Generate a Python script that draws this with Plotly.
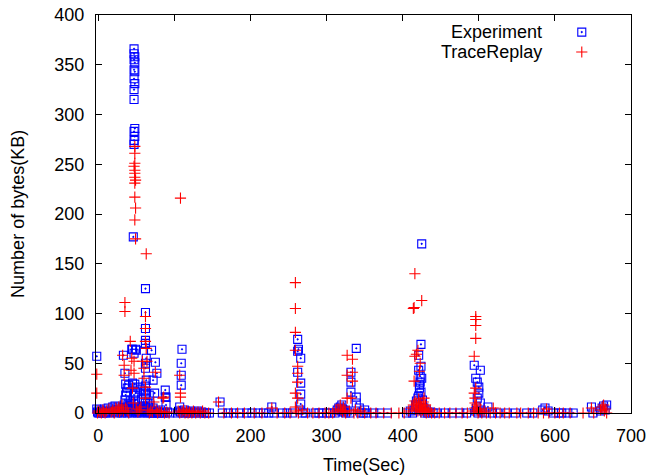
import plotly.graph_objects as go

# ---------------- data ----------------
exp_time = [
    -2, -2, -1, 0, 1, 2, 3, 5, 6, 8, 9, 10, 12, 13, 15, 16, 18, 19, 20, 22, 23, 24, 25, 26, 27, 29,
    30, 31, 32, 33, 34, 35, 36, 37, 38, 39, 40, 41, 42, 43, 44, 45, 46, 48, 49, 50, 51, 52, 53, 54,
    55, 56, 57, 58, 59, 60, 61, 62, 63, 64, 65, 66, 67, 68, 69, 70, 71, 72, 73, 74, 76, 77, 78, 80,
    82, 84, 86, 88, 91, 94,
    47, 47, 48, 47, 48, 47, 48, 47, 48, 47, 47, 48, 47, 48, 47, 47, 46,
    44, 45, 49, 50, 47, 33, 70, 75, 77, 72, 88, 89, 89, 35, 36, 36, 37, 35, 48, 47, 47, 49, 49,
    62, 62, 62, 62, 62, 63, 62, 62, 63, 62, 62, 62, 62, 62, 74, 88,
    38, 40, 42, 43, 39, 45, 52, 55, 57, 60, 65, 67, 68,
    110, 109, 109, 109, 107, 104, 106, 108, 111, 113, 115, 117, 119, 121, 123, 126, 128, 131, 133,
    136, 139, 142, 146,
    160, 163, 171, 178, 186, 195, 202, 210, 217, 224, 228, 231, 242, 248, 255,
    262, 263, 262, 266, 262, 266, 266, 266, 265, 268, 272,
    285, 290, 294, 300, 305, 311, 314, 316, 318, 319, 320, 321, 322, 323, 325, 327, 330,
    332, 332, 332, 339, 339, 339, 343, 345, 348, 350, 353, 362, 370, 380,
    405, 410, 413, 415, 417, 418, 419, 420, 421, 421, 424, 425, 424, 423, 422, 424, 421, 426, 422,
    423, 425, 426, 428, 427, 429, 431, 433, 436, 440, 445, 456, 465, 475, 484,
    494, 502, 496, 498, 500, 500, 498, 502, 497, 496, 499, 503, 505, 508, 512, 518, 525, 537, 548,
    563, 571, 584, 587, 591, 598, 605, 609, 617, 624, 648, 650, 660, 662, 664, 666, 668,
]
exp_kb = [
    57, 4, 1, 0, 3, 0, 1, 2, 0, 4, 1, 0, 2, 5, 1, 0, 3, 6, 1, 7, 2, 4, 0, 6, 1, 3,
    2, 0, 5, 1, 8, 3, 2, 6, 0, 4, 2, 7, 1, 3, 0, 5, 2, 4, 1, 3, 0, 6, 2, 1,
    4, 0, 3, 7, 2, 5, 1, 4, 3, 0, 2, 6, 1, 0, 3, 2, 0, 5, 1, 0, 2, 0, 1, 0,
    3, 0, 1, 0, 1, 0,
    366, 361, 358, 355, 352, 345, 343, 336, 331, 325, 315, 286, 283, 278, 274, 270, 177,
    64, 64, 64, 63, 60, 58, 63, 51, 40, 33, 23, 16, 8, 40, 29, 18, 21, 13, 29, 18, 9, 20, 13,
    125, 101, 85, 73, 70, 55, 50, 45, 33, 27, 20, 15, 10, 5, 20, 16,
    25, 28, 12, 9, 7, 30, 26, 24, 14, 22, 10, 18, 8,
    64, 50, 38, 28, 6, 0, 2, 1, 0, 3, 0, 1, 0, 2, 0, 1, 0, 2, 0,
    1, 0, 0, 0,
    11, 0, 0, 0, 0, 0, 0, 0, 0, 0, 6, 0, 0, 0, 0,
    74, 64, 62, 55, 41, 30, 19, 9, 3, 0, 0,
    0, 0, 0, 0, 0, 0, 3, 5, 6, 2, 8, 4, 1, 3, 0, 2, 0,
    41, 31, 21, 65, 16, 10, 5, 0, 0, 3, 0, 0, 0, 0,
    0, 2, 0, 3, 8, 12, 6, 15, 58, 43, 69, 170, 47, 37, 28, 21, 17, 13, 25,
    31, 35, 9, 5, 2, 0, 3, 0, 1, 0, 0, 0, 0, 0, 0,
    48, 43, 35, 31, 26, 20, 15, 10, 5, 2, 0, 3, 1, 0, 6, 0, 0, 0, 0,
    0, 0, 3, 5, 2, 0, 0, 0, 0, 0, 6, 0, 2, 5, 7, 3, 8,
]

rep_time = [
    -2, -2, -1, 0, 2, 4, 6, 7, 9, 11, 14, 17, 19, 21, 23, 25, 27, 28, 30, 31, 33,
    35, 35, 32, 34, 34, 36, 38, 40, 42, 44, 43, 45, 47, 47, 46,
    48, 48, 48, 47, 48, 48, 48, 49, 48, 48, 49, 48, 49,
    50, 52, 54, 56, 58, 60, 60, 62, 62, 62, 63, 62, 62, 63, 64, 65, 67, 69, 71, 73, 75, 76, 78,
    80, 83, 85, 86, 87, 90, 93,
    108, 107, 108, 108, 105, 107, 110, 112, 114, 116, 118, 120, 123, 125, 128, 131, 134, 137, 140, 145,
    158, 165, 175, 183, 192, 205, 215, 228, 235, 245, 252,
    259, 259, 259, 259, 262, 262, 262, 259, 262, 259, 260, 263, 268, 275, 282, 290, 298,
    303, 308, 312, 315, 318, 319, 321, 322, 324, 325, 327, 334, 334, 327, 334, 327, 332, 330, 336,
    338, 341, 345, 350, 358, 365, 375, 385, 395, 402, 408,
    416, 425, 414, 415, 420, 416, 418, 415, 422, 423, 428, 412, 414, 416, 417, 418, 419, 420, 421,
    422, 423, 424, 425, 426, 427, 428, 429, 430, 431, 432, 434, 436, 438, 442, 448, 455, 462, 470,
    478, 485,
    496, 496, 496, 496, 494, 495, 495, 495, 493, 494, 496, 497, 498, 499, 500, 502, 504, 507, 510,
    515, 519, 522, 528, 534, 540, 550, 555, 565, 572, 578, 585, 589, 592, 600, 606, 611, 620, 637,
    648, 651, 660, 662, 664, 665, 666, 668,
]
rep_kb = [
    39, 20, 0, 2, 1, 0, 3, 1, 0, 2, 4, 1, 3, 0, 5, 2, 6, 1, 3, 8, 2,
    111, 102, 58, 48, 38, 5, 2, 0, 72, 55, 43, 25, 52, 40, 10,
    268, 261, 251, 248, 244, 241, 237, 234, 231, 217, 206, 194, 175,
    4, 1, 3, 6, 52, 45, 35, 97, 85, 72, 65, 26, 15, 160, 52, 3, 0, 2, 1, 11, 41, 3, 0,
    2, 1, 15, 16, 0, 1, 0,
    216, 38, 20, 16, 2, 0, 1, 3, 0, 2, 0, 1, 0, 2, 0, 1, 0, 2, 0, 0,
    11, 0, 0, 0, 0, 0, 0, 5, 0, 0, 0,
    131, 105, 81, 63, 47, 40, 31, 20, 15, 6, 2, 0, 3, 0, 0, 0, 0,
    0, 0, 2, 4, 8, 3, 1, 6, 2, 0, 58, 54, 41, 38, 32, 15, 15, 2, 0,
    3, 0, 2, 0, 0, 0, 0, 0, 0, 0, 2,
    140, 113, 105, 106, 63, 57, 59, 32, 42, 50, 15, 5, 8, 12, 3, 10, 6, 2, 14,
    4, 9, 1, 7, 3, 11, 5, 2, 8, 0, 4, 1, 3, 0, 0, 0, 0, 0, 0,
    0, 0,
    97, 94, 88, 75, 57, 15, 10, 5, 2, 20, 25, 8, 3, 0, 1, 4, 0, 2, 0,
    0, 5, 0, 0, 0, 0, 0, 0, 0, 0, 0, 0, 4, 0, 0, 0, 0, 0, 0,
    5, 0, 3, 6, 8, 2, 4, 0,
]

series_names = ["Experiment", "TraceReplay"]
x_title = "Time(Sec)"
y_title = "Number of bytes(KB)"
x_ticks = [0, 100, 200, 300, 400, 500, 600, 700]
y_ticks = [0, 50, 100, 150, 200, 250, 300, 350, 400]

BLUE = "#0000ff"
RED = "#ff0000"
FONT = "Liberation Sans, Arial, sans-serif"

SQ = dict(symbol="square-open-dot", size=8, color=BLUE, line=dict(width=1.1, color=BLUE))
CR = dict(symbol="cross-thin-open", size=8, color=RED, line=dict(width=1.1, color=RED))

fig = go.Figure()
fig.add_trace(go.Scatter(x=exp_time, y=exp_kb, mode="markers", name=series_names[0],
                         cliponaxis=False, marker=SQ, showlegend=False))
fig.add_trace(go.Scatter(x=rep_time, y=rep_kb, mode="markers", name=series_names[1],
                         cliponaxis=False, marker=CR, showlegend=False))

# legend (gnuplot style: text right-aligned, symbol on the right)
fig.add_trace(go.Scatter(x=[0.908], y=[0.957], xaxis="x2", yaxis="y2", mode="markers",
                         showlegend=False, marker=SQ, cliponaxis=False, hoverinfo="skip"))
fig.add_trace(go.Scatter(x=[0.908], y=[0.907], xaxis="x2", yaxis="y2", mode="markers",
                         showlegend=False, marker=CR, cliponaxis=False, hoverinfo="skip"))
for name, yy in zip(series_names, [0.957, 0.907]):
    fig.add_annotation(x=0.838, y=yy, xref="paper", yref="paper", text=name, showarrow=False,
                       xanchor="right", yanchor="middle", font=dict(family=FONT, size=18, color="black"))

# axis titles (placed like gnuplot)
fig.add_annotation(x=0.5, y=-0.13, xref="paper", yref="paper", text=x_title, showarrow=False,
                   xanchor="center", yanchor="middle", font=dict(family=FONT, size=18, color="black"))
fig.add_annotation(x=-0.146, y=0.5, xref="paper", yref="paper", text=y_title, showarrow=False,
                   textangle=-90, xanchor="center", yanchor="middle",
                   font=dict(family=FONT, size=18, color="black"))

axis_common = dict(
    showline=True, linecolor="black", linewidth=1.2, mirror="ticks",
    ticks="inside", ticklen=6, tickwidth=1, tickcolor="black",
    showgrid=False, zeroline=False, automargin=False,
    tickfont=dict(family=FONT, size=18, color="black"),
)
fig.update_layout(
    width=652, height=476,
    margin=dict(l=96, r=21, t=15, b=63),
    paper_bgcolor="white", plot_bgcolor="white",
    font=dict(family=FONT, size=18, color="black"),
    xaxis=dict(range=[-3, 700], tickvals=x_ticks, ticklabelstandoff=6, **axis_common),
    yaxis=dict(range=[0, 400], tickvals=y_ticks, ticklabelstandoff=7, **axis_common),
    xaxis2=dict(overlaying="x", range=[0, 1], visible=False),
    yaxis2=dict(overlaying="y", range=[0, 1], visible=False),
)

fig.write_html(
    "out.html",
    config={"displayModeBar": False},
    post_script="document.body.style.margin='0';document.body.style.overflow='hidden';",
)
